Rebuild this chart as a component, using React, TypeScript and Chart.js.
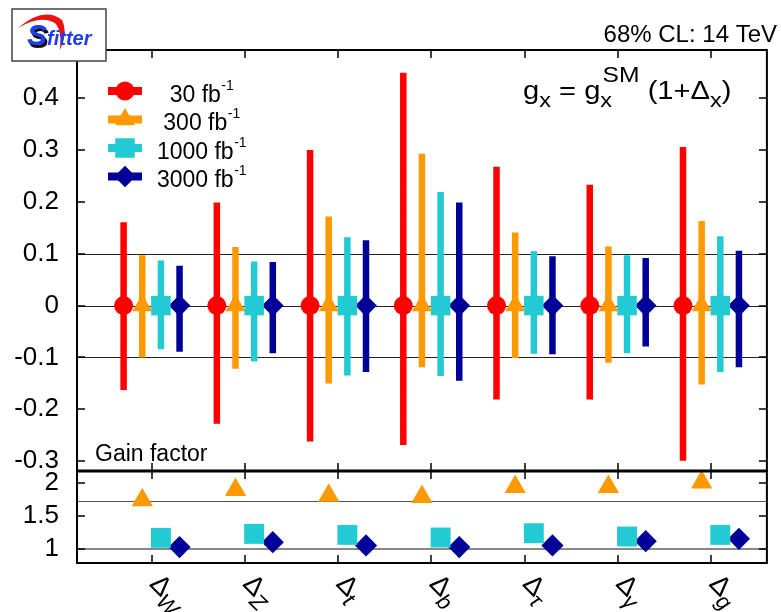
import React, { useEffect, useRef } from 'react';
import { Chart, registerables } from 'chart.js';
import { drawPoint } from 'chart.js/helpers';

Chart.register(...registerables);

// ---------------- data ----------------
const categories = ['W', 'Z', 't', 'b', 'τ', 'γ', 'g'];
const seriesNames = ['30 fb', '300 fb', '1000 fb', '3000 fb'];
const seriesColors = ['#ff0000', '#ff9900', '#22cbd3', '#000099'];
const seriesOffsets = [-0.3, -0.1, 0.1, 0.3];
const seriesStyles = ['circle', 'triangle', 'rect', 'rectRot'];
const seriesRadius = [9.5, 11.5, 13.8, 10.8];

const central = [0, 0, 0, 0, 0, 0, 0];
const up30 = [0.161, 0.199, 0.300, 0.449, 0.268, 0.233, 0.306];
const dn30 = [-0.163, -0.228, -0.262, -0.269, -0.181, -0.181, -0.299];
const up300 = [0.097, 0.113, 0.172, 0.293, 0.141, 0.114, 0.163];
const dn300 = [-0.100, -0.122, -0.150, -0.119, -0.101, -0.110, -0.152];
const up1000 = [0.087, 0.085, 0.132, 0.219, 0.105, 0.097, 0.134];
const dn1000 = [-0.084, -0.108, -0.135, -0.136, -0.093, -0.092, -0.128];
const up3000 = [0.077, 0.084, 0.126, 0.199, 0.095, 0.092, 0.106];
const dn3000 = [-0.089, -0.092, -0.128, -0.145, -0.094, -0.079, -0.119];

const gain300 = [1.74, 1.895, 1.81, 1.79, 1.94, 1.94, 2.01];
const gain1000 = [1.17, 1.23, 1.215, 1.175, 1.24, 1.19, 1.215];
const gain3000 = [1.03, 1.105, 1.055, 1.03, 1.055, 1.12, 1.155];

const mainTicks = [-0.3, -0.2, -0.1, 0, 0.1, 0.2, 0.3, 0.4];
const gainTicks = [1, 1.5, 2];
const mainRefLines = [-0.1, 0, 0.1];
const gainRefLines = [1.73, 1];

const ups = [up30, up300, up1000, up3000];
const dns = [dn30, dn300, dn1000, dn3000];
const gains = [null, gain300, gain1000, gain3000];

const FONT = "'Liberation Sans', Arial, Helvetica, sans-serif";

// ---------------- datasets ----------------
function buildDatasets() {
  const ds: any[] = [];
  seriesNames.forEach((name, s) => {
    const bar: any[] = [];
    categories.forEach((_, i) => {
      const x = i + 1 + seriesOffsets[s];
      bar.push({ x, y: dns[s][i] }, { x, y: ups[s][i] }, { x, y: null });
    });
    ds.push({
      type: 'line',
      label: name + ' err',
      data: bar,
      yAxisID: 'y',
      borderColor: seriesColors[s],
      borderWidth: 6.5,
      borderCapStyle: 'butt',
      pointRadius: 0,
      spanGaps: false,
      fill: false,
      order: 3,
    });
    ds.push({
      type: 'line',
      label: name,
      data: central.map((v, i) => ({ x: i + 1 + seriesOffsets[s], y: v })),
      yAxisID: 'y',
      showLine: false,
      pointStyle: seriesStyles[s],
      pointRadius: seriesRadius[s],
      pointBackgroundColor: seriesColors[s],
      pointBorderColor: seriesColors[s],
      pointBorderWidth: 0,
      order: 2,
    });
    const g = gains[s];
    if (g) {
      ds.push({
        type: 'line',
        label: name + ' gain',
        data: g.map((v, i) => ({ x: i + 1 + seriesOffsets[s], y: v })),
        yAxisID: 'yGain',
        showLine: false,
        pointStyle: seriesStyles[s],
        pointRadius: s === 1 ? 12.3 : seriesRadius[s] + 0.3,
        pointBackgroundColor: seriesColors[s],
        pointBorderColor: seriesColors[s],
        pointBorderWidth: 0,
        order: 1,
      });
    }
  });
  return ds;
}

// ---------------- drawing helpers ----------------
function hline(ctx: CanvasRenderingContext2D, x1: number, x2: number, y: number) {
  ctx.beginPath();
  ctx.moveTo(x1, y);
  ctx.lineTo(x2, y);
  ctx.stroke();
}
function vline(ctx: CanvasRenderingContext2D, x: number, y1: number, y2: number) {
  ctx.beginPath();
  ctx.moveTo(x, y1);
  ctx.lineTo(x, y2);
  ctx.stroke();
}

function drawLogo(ctx: CanvasRenderingContext2D) {
  ctx.save();
  ctx.fillStyle = '#fff';
  ctx.fillRect(12, 9, 94, 52);
  ctx.strokeStyle = '#444';
  ctx.lineWidth = 1.5;
  ctx.strokeRect(12, 9, 94, 52);
  // red swoosh
  ctx.fillStyle = '#ee1111';
  ctx.beginPath();
  ctx.moveTo(18, 28);
  ctx.quadraticCurveTo(44, 6, 62, 20);
  ctx.quadraticCurveTo(68, 32, 60, 50);
  ctx.quadraticCurveTo(62, 32, 56, 24);
  ctx.quadraticCurveTo(42, 14, 18, 28);
  ctx.fill();
  // S
  ctx.font = `italic bold 30px ${FONT}`;
  ctx.fillStyle = '#111';
  ctx.fillText('S', 29, 48);
  ctx.fillStyle = '#1f3cf0';
  ctx.fillText('S', 27, 45);
  ctx.font = `italic bold 20px ${FONT}`;
  ctx.fillStyle = '#1f3cf0';
  ctx.fillText('fitter', 47, 45);
  ctx.restore();
}

const decor = {
  id: 'decor',
  beforeDatasetsDraw(chart: any) {
    const { ctx, chartArea } = chart;
    const y = chart.scales.y;
    const g = chart.scales.yGain;
    ctx.save();
    ctx.strokeStyle = '#222';
    ctx.lineWidth = 1;
    mainRefLines.forEach((v) => hline(ctx, chartArea.left, chartArea.right, Math.round(y.getPixelForValue(v)) + 0.5));
    gainRefLines.forEach((v, k) => {
      ctx.strokeStyle = k === 0 ? '#555' : '#888';
      ctx.lineWidth = k === 0 ? 1 : 2;
      hline(ctx, chartArea.left, chartArea.right, Math.round(g.getPixelForValue(v)) + (k === 0 ? 0.5 : 0));
    });
    ctx.restore();
  },
  afterDraw(chart: any) {
    const { ctx, chartArea } = chart;
    const x = chart.scales.x;
    const y = chart.scales.y;
    const g = chart.scales.yGain;
    const L = chartArea.left, R = chartArea.right;
    const mTop = y.top, mBot = y.bottom, gTop = g.top, gBot = g.bottom;
    ctx.save();
    // frames
    ctx.strokeStyle = '#000';
    ctx.lineWidth = 2;
    ctx.strokeRect(L, mTop, R - L, mBot - mTop);
    ctx.strokeRect(L, gTop, R - L, gBot - gTop);
    ctx.lineWidth = 3;
    hline(ctx, L, R, mBot);
    // ticks
    ctx.lineWidth = 1.5;
    const tl = 8;
    categories.forEach((_, i) => {
      const px = Math.round(x.getPixelForValue(i + 1));
      vline(ctx, px, mTop, mTop + tl);
      vline(ctx, px, mBot, mBot - tl);
      vline(ctx, px, gTop, gTop + tl);
      vline(ctx, px, gBot, gBot - tl);
    });
    mainTicks.forEach((v) => {
      const py = Math.round(y.getPixelForValue(v));
      hline(ctx, L, L + tl, py);
      hline(ctx, R, R - tl, py);
    });
    gainTicks.forEach((v) => {
      const py = Math.round(g.getPixelForValue(v));
      hline(ctx, L, L + tl, py);
      hline(ctx, R, R - tl, py);
    });

    ctx.fillStyle = '#000';
    ctx.textBaseline = 'alphabetic';
    // title
    ctx.font = `24px ${FONT}`;
    ctx.textAlign = 'right';
    ctx.fillText('68% CL: 14 TeV', 777, 41.5);
    ctx.textAlign = 'left';

    // formula g_x = g_x^SM (1+Δ_x)
    ctx.save();
    ctx.translate(523, 98.5);
    ctx.scale(1.12, 1);
    const fMain = `26px ${FONT}`;
    const fSub = `21px ${FONT}`;
    const fSup = `22px ${FONT}`;
    let cx = 0;
    const put = (t: string, f: string, dy: number, adv = true) => {
      ctx.font = f;
      ctx.fillText(t, cx, dy);
      const w = ctx.measureText(t).width;
      if (adv) cx += w;
      return w;
    };
    put('g', fMain, 0);
    put('x', fSub, 8);
    put(' = ', fMain, 0);
    put('g', fMain, 0);
    const ws = put('x', fSub, 8, false);
    const s0 = cx;
    cx += 2;
    const wsup = put('SM', fSup, -17, false);
    cx = s0 + Math.max(ws, wsup + 2);
    put(' (1+Δ', fMain, 0);
    put('x', fSub, 8);
    put(')', fMain, 0);
    ctx.restore();

    // legend
    seriesNames.forEach((name, s) => {
      const ly = 91 + 28.5 * s;
      ctx.fillStyle = seriesColors[s];
      ctx.fillRect(108, ly - 4, 34, 8);
      drawPoint(ctx, { pointStyle: seriesStyles[s], radius: seriesRadius[s], rotation: 0, borderWidth: 0 } as any, 125, ly);
      ctx.fillStyle = '#000';
      ctx.font = `23px ${FONT}`;
      const w1 = ctx.measureText(name).width;
      ctx.font = `14px ${FONT}`;
      const w2 = ctx.measureText('-1').width;
      const sx = 201.5 - (w1 + w2) / 2;
      ctx.font = `23px ${FONT}`;
      ctx.fillText(name, sx, ly + 10.5);
      ctx.font = `14px ${FONT}`;
      ctx.fillText('-1', sx + w1 + 0.5, ly - 1.5);
    });

    // gain factor label
    ctx.fillStyle = '#000';
    ctx.font = `23px ${FONT}`;
    ctx.fillText('Gain factor', 95, 460.5);

    // category labels, rotated
    categories.forEach((c, i) => {
      const px = x.getPixelForValue(i + 1);
      ctx.save();
      ctx.translate(px - 3, gBot + 22);
      ctx.rotate((45 * Math.PI) / 180);
      ctx.font = `27px ${FONT}`;
      ctx.fillText('Δ', 0, 0);
      const wd = ctx.measureText('Δ').width;
      ctx.font = `italic 22px ${FONT}`;
      ctx.fillText(c, wd - 1, 8);
      ctx.restore();
    });

    drawLogo(ctx);
    ctx.restore();
  },
};

function tickLabel(v: any) {
  return String(Number(Number(v).toFixed(2)));
}

export default function App() {
  const ref = useRef<HTMLCanvasElement>(null);
  useEffect(() => {
    const canvas = ref.current!;
    const chart = new Chart(canvas, {
      type: 'line',
      data: { datasets: buildDatasets() },
      options: {
        animation: false,
        responsive: false,
        devicePixelRatio: 1,
        events: [],
        layout: { padding: { top: 50, right: 3, bottom: 49, left: 0 } },
        plugins: { legend: { display: false }, tooltip: { enabled: false } },
        scales: {
          x: { type: 'linear', min: 0.2, max: 7.6, display: false },
          yGain: {
            type: 'linear',
            position: 'left',
            stack: 'panels',
            stackWeight: 92,
            min: 0.79,
            max: 2.18,
            afterBuildTicks: (s: any) => { s.ticks = gainTicks.map((v) => ({ value: v })); },
            afterFit: (s: any) => { s.width = 77; },
            grid: { display: false, drawTicks: false },
            border: { display: false },
            ticks: { color: '#000', padding: 18, font: { family: FONT, size: 26 }, callback: tickLabel, autoSkip: false },
          },
          y: {
            type: 'linear',
            position: 'left',
            stack: 'panels',
            stackWeight: 421,
            min: -0.319,
            max: 0.493,
            afterBuildTicks: (s: any) => { s.ticks = mainTicks.map((v) => ({ value: v })); },
            afterFit: (s: any) => { s.width = 77; },
            grid: { display: false, drawTicks: false },
            border: { display: false },
            ticks: { color: '#000', padding: 18, font: { family: FONT, size: 26 }, callback: tickLabel, autoSkip: false },
          },
        },
      } as any,
      plugins: [decor],
    });
    return () => chart.destroy();
  }, []);
  return (
    <div style={{ position: 'fixed', left: 0, top: 0, width: 781, height: 612, background: '#fff' }}>
      <canvas ref={ref} width={781} height={612} style={{ width: 781, height: 612, display: 'block' }} />
    </div>
  );
}
